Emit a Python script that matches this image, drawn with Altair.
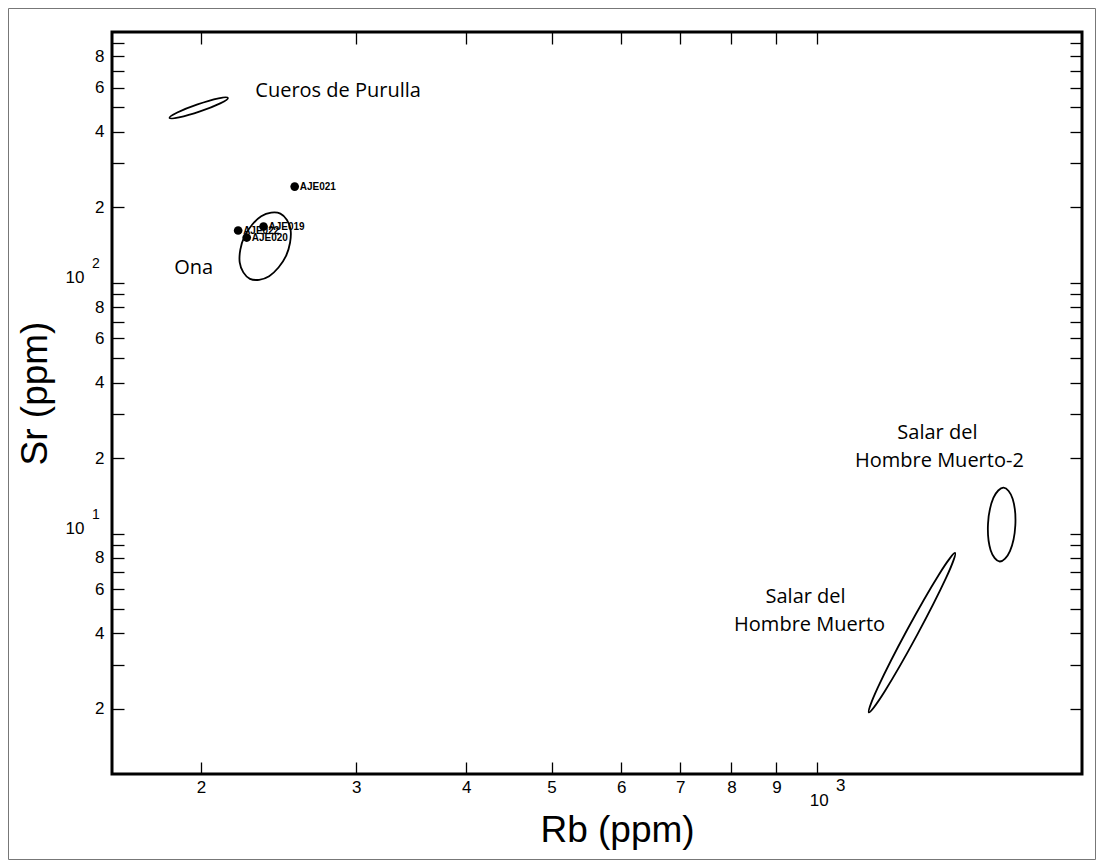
import altair as alt
import pandas as pd

# ---------------- data ----------------
# traced outline points of the four fields (Rb ppm, Sr ppm)
ell_group = ["Cueros"] * 8 + ["Ona"] * 8 + ["SHM"] * 8 + ["SHM2"] * 8
ell_order = list(range(8)) * 4
ell_rb = [214.6, 210.3, 199.5, 188.8, 184.2, 188.0, 198.2, 209.4,
          246.1, 252.8, 249.8, 239.0, 227.3, 221.3, 224.0, 234.1,
          1435.6, 1401.5, 1299.0, 1195.0, 1145.7, 1173.5, 1266.1, 1376.3,
          1629.5, 1668.7, 1680.2, 1656.8, 1613.1, 1575.2, 1564.4, 1586.5]
ell_sr = [545.8, 519.5, 482.3, 456.2, 454.3, 477.4, 514.2, 543.6,
          188.7, 162.3, 128.0, 106.3, 103.7, 120.6, 152.9, 184.1,
          8.370, 6.638, 3.928, 2.358, 1.936, 2.441, 4.125, 6.872,
          15.24, 13.74, 10.79, 8.507, 7.738, 8.586, 10.93, 13.87]

# samples
sample_names = ["AJE021", "AJE019", "AJE022", "AJE020"]
sample_rb = [255.5, 235.5, 220.4, 225.4]
sample_sr = [241.9, 167.6, 161.6, 151.5]

# field names
lab_left_text = ["Cueros de Purulla", "Ona"]
lab_left_rb = [230.5, 186.5]
lab_left_sr = [583.7, 114.6]
lab_center_text = ["Salar del", "Hombre Muerto-2", "Salar del", "Hombre Muerto"]
lab_center_rb = [1370.7, 1377.8, 971.1, 981.3]
lab_center_sr = [25.10, 19.41, 5.575, 4.312]

# axes
x_domain = [158.5, 2000]
y_domain = [1.1, 1000]
x_ticks = [200, 300, 400, 500, 600, 700, 800, 900, 1000]
y_ticks = [2, 3, 4, 5, 6, 7, 8, 9, 10, 20, 30, 40, 50, 60, 70, 80, 90,
           100, 200, 300, 400, 500, 600, 700, 800, 900]
y_labelled = [2, 4, 6, 8, 20, 40, 60, 80, 200, 400, 600, 800]
y_exp_values = [10, 100]
y_exp_text = ["1", "2"]
x_exp_values = [1000]
x_exp_text = ["3"]

W, H = 970, 742
FONT = "Liberation Sans"
LABEL_FONT = "Open Sans"

ell_df = pd.DataFrame({"group": ell_group, "order": ell_order, "rb": ell_rb, "sr": ell_sr})
smp_df = pd.DataFrame({"name": sample_names, "rb": sample_rb, "sr": sample_sr})
left_df = pd.DataFrame({"text": lab_left_text, "rb": lab_left_rb, "sr": lab_left_sr})
cent_df = pd.DataFrame({"text": lab_center_text, "rb": lab_center_rb, "sr": lab_center_sr})
yexp_df = pd.DataFrame({"text": y_exp_text, "rb": [x_domain[0]] * len(y_exp_values), "sr": y_exp_values})
xexp_df = pd.DataFrame({"text": x_exp_text, "rb": x_exp_values, "sr": [y_domain[0]] * len(x_exp_values)})

xs = alt.Scale(type="log", domain=x_domain, nice=False, zero=False)
ys = alt.Scale(type="log", domain=y_domain, nice=False, zero=False)

y_lab_expr = ("indexof(" + str(y_labelled) + ", datum.value) >= 0 ? substring(toString(datum.value), 0, 1) : "
              "(datum.value == 10 || datum.value == 100 ? '10' : '')")
x_lab_expr = "datum.value == 1000 ? '10' : substring(toString(datum.value), 0, 1)"

is_dec_y = "datum.value == 10 || datum.value == 100"

x_bottom = alt.Axis(orient="bottom", values=x_ticks, labelExpr=x_lab_expr, tickSize=12, offset=-12,
                    domain=False, grid=False, tickColor="black", tickWidth=1.3,
                    labelColor="black", labelFont=FONT, labelFontSize=17, labelFlush=False,
                    labelOverlap=False,
                    labelPadding={"condition": {"test": "datum.value == 1000", "value": 18}, "value": 5},
                    labelOffset={"condition": {"test": "datum.value == 1000", "value": 2}, "value": 0},
                    title="Rb (ppm)", titleFont=FONT, titleFontSize=37, titleFontWeight="normal",
                    titleColor="black", titleX=505, titleY=68, titleAlign="center",
                    titleBaseline="middle")
y_left = alt.Axis(orient="left", values=y_ticks, labelExpr=y_lab_expr, tickSize=12, offset=-12,
                  domain=False, grid=False, tickColor="black", tickWidth=1.3,
                  labelColor="black", labelFont=FONT, labelFontSize=17, labelFlush=False,
                  labelOverlap=False, labelAlign="right", labelBaseline="middle",
                  labelPadding={"condition": {"test": is_dec_y, "value": 28}, "value": 8},
                  labelOffset={"condition": {"test": is_dec_y, "value": -5}, "value": 0},
                  title="Sr (ppm)", titleFont=FONT, titleFontSize=37, titleFontWeight="normal",
                  titleColor="black", titleX=-89, titleY=361, titleAngle=270,
                  titleAlign="center", titleBaseline="middle")
x_top = alt.Axis(orient="top", values=x_ticks, labels=False, tickSize=12, offset=-12, domain=False,
                 grid=False, tickColor="black", tickWidth=1.3, title=None)
y_right = alt.Axis(orient="right", values=y_ticks, labels=False, tickSize=12, offset=-12, domain=False,
                   grid=False, tickColor="black", tickWidth=1.3, title=None)

ellipses = alt.Chart(ell_df).mark_line(interpolate="cardinal-closed", color="black", strokeWidth=1.8).encode(
    x=alt.X("rb:Q", scale=xs, axis=x_bottom),
    y=alt.Y("sr:Q", scale=ys, axis=y_left),
    detail="group:N",
    order="order:Q",
)

points = alt.Chart(smp_df).mark_circle(size=75, color="black", opacity=1).encode(
    x=alt.X("rb:Q", scale=xs, axis=x_top),
    y=alt.Y("sr:Q", scale=ys, axis=y_right),
)

point_labels = alt.Chart(smp_df).mark_text(align="left", baseline="middle", dx=5, font=FONT,
                                           fontSize=10, fontWeight="bold", color="black").encode(
    x=alt.X("rb:Q", scale=xs, axis=None),
    y=alt.Y("sr:Q", scale=ys, axis=None),
    text="name:N",
)

left_labels = alt.Chart(left_df).mark_text(align="left", baseline="middle", font=LABEL_FONT,
                                           fontSize=20, color="black").encode(
    x=alt.X("rb:Q", scale=xs, axis=None),
    y=alt.Y("sr:Q", scale=ys, axis=None),
    text="text:N",
)

center_labels = alt.Chart(cent_df).mark_text(align="center", baseline="middle", font=LABEL_FONT,
                                             fontSize=20, color="black").encode(
    x=alt.X("rb:Q", scale=xs, axis=None),
    y=alt.Y("sr:Q", scale=ys, axis=None),
    text="text:N",
)

y_exp = alt.Chart(yexp_df).mark_text(align="center", baseline="middle", dx=-16, dy=-19, font=FONT,
                                     fontSize=14, color="black").encode(
    x=alt.X("rb:Q", scale=xs, axis=None),
    y=alt.Y("sr:Q", scale=ys, axis=None),
    text="text:N",
)

x_exp = alt.Chart(xexp_df).mark_text(align="center", baseline="middle", dx=24, dy=12, font=FONT,
                                     fontSize=17, color="black").encode(
    x=alt.X("rb:Q", scale=xs, axis=None),
    y=alt.Y("sr:Q", scale=ys, axis=None),
    text="text:N",
)

border = alt.Chart(pd.DataFrame({"a": [0]})).mark_rect(fill=None, stroke="#777777", strokeWidth=1).encode(
    x=alt.value(-103.5), x2=alt.value(W + 13.5), y=alt.value(-23.5), y2=alt.value(H + 85.5)
)

chart = alt.layer(
    border, ellipses, points, point_labels, left_labels, center_labels, y_exp, x_exp
).resolve_axis(
    x="independent", y="independent"
).properties(
    width=W, height=H,
    autosize=alt.AutoSizeParams(type="none"),
    padding={"left": 104, "top": 24, "right": 14, "bottom": 86},
    background="white",
).configure_view(
    stroke="black", strokeWidth=3
)

chart.save("out.html", embed_options={"renderer": "svg", "actions": False})
